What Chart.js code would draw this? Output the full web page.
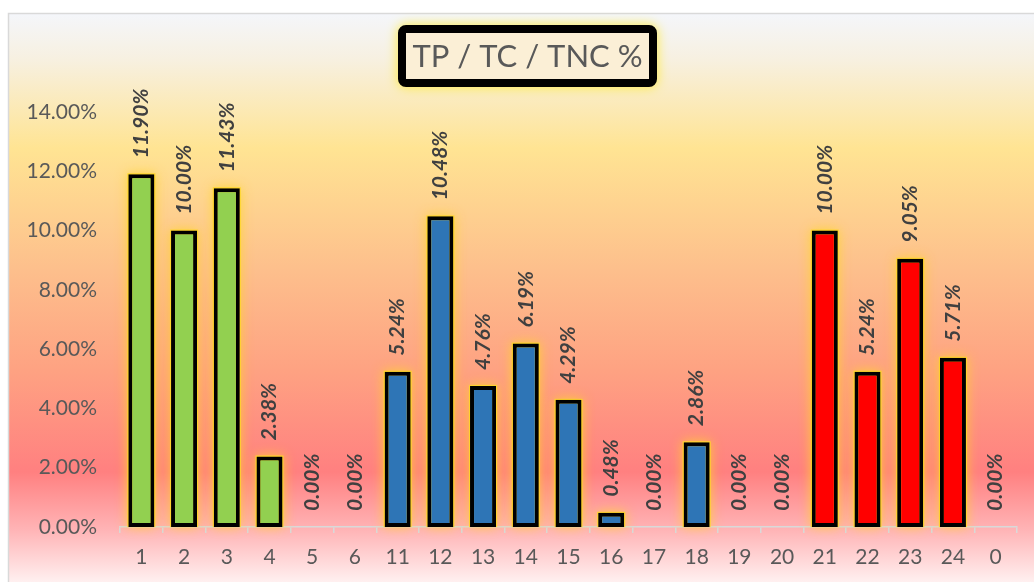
<!DOCTYPE html>
<html>
<head>
<meta charset="utf-8">
<script src="https://cdn.jsdelivr.net/npm/chart.js@4"></script>
<style>
  html, body { margin: 0; padding: 0; background: #ffffff; }
  #wrap { width: 1034px; height: 582px; position: relative; }
</style>
</head>
<body>
<div id="wrap"><canvas id="c" width="1034" height="582"></canvas></div>
<script>
const categories = ['1','2','3','4','5','6','11','12','13','14','15','16','17','18','19','20','21','22','23','24','0'];
const values = [11.90, 10.00, 11.43, 2.38, 0.00, 0.00, 5.24, 10.48, 4.76, 6.19, 4.29, 0.48, 0.00, 2.86, 0.00, 0.00, 10.00, 5.24, 9.05, 5.71, 0.00];
const barColors = ['#92d050','#92d050','#92d050','#92d050','#92d050','#92d050',
  '#2e75b6','#2e75b6','#2e75b6','#2e75b6','#2e75b6','#2e75b6','#2e75b6','#2e75b6','#2e75b6','#2e75b6',
  '#ff0000','#ff0000','#ff0000','#ff0000','#ff0000'];
const titleText = 'TP / TC / TNC %';

const bgPlugin = {
  id: 'bg',
  beforeDraw(chart) {
    const ctx = chart.ctx;
    ctx.save();
    ctx.fillStyle = '#ffffff';
    ctx.fillRect(0, 0, chart.width, chart.height);
    const top = 13, bot = 582;
    const g = ctx.createLinearGradient(0, top, 0, bot);
    const h = bot - top;
    const stop = (y, c) => g.addColorStop(Math.min(1, Math.max(0, (y - top) / h)), c);
    stop(13, '#f4f6fb');
    stop(60, '#f7f0e0');
    stop(148, '#ffe493');
    stop(270, '#fdbf8c');
    stop(370, '#fea282');
    stop(472, '#ff8080');
    stop(530, '#ffb4b6');
    stop(582, '#fff0f0');
    ctx.fillStyle = g;
    ctx.fillRect(8, 13, chart.width, chart.height);
    ctx.strokeStyle = '#d9d9d9';
    ctx.lineWidth = 1.5;
    ctx.strokeRect(8.5, 13.5, chart.width + 20, chart.height + 20);
    ctx.restore();
  },
  beforeDatasetsDraw(chart) {
    // soft yellow glow behind each non-zero bar
    const ctx = chart.ctx;
    const meta = chart.getDatasetMeta(0);
    ctx.save();
    ctx.shadowColor = 'rgba(255, 214, 40, 0.9)';
    ctx.shadowBlur = 12;
    ctx.fillStyle = 'rgba(255, 214, 40, 0.9)';
    meta.data.forEach((el, i) => {
      if (chart.data.datasets[0].data[i] === 0) return;
      const p = el.getProps(['x', 'y', 'base', 'width'], true);
      ctx.fillRect(p.x - p.width / 2 - 1, p.y - 1, p.width + 2, p.base - p.y + 1);
    });
    ctx.restore();
  },
  afterDatasetsDraw(chart) {
    const ctx = chart.ctx;
    const meta = chart.getDatasetMeta(0);
    ctx.save();
    ctx.fillStyle = '#404040';
    ctx.font = 'italic bold 21px Lato';
    ctx.textAlign = 'left';
    ctx.textBaseline = 'middle';
    meta.data.forEach((el, i) => {
      const v = chart.data.datasets[0].data[i];
      ctx.save();
      ctx.translate(el.x, el.y - 16);
      ctx.rotate(-Math.PI / 2);
      ctx.fillText(v.toFixed(2) + '%', 0, 0);
      ctx.restore();
    });
    ctx.restore();
  },
  afterDraw(chart) {
    const ctx = chart.ctx;
    ctx.save();
    const x = 402, y = 29, w = 251, h = 54, r = 4;
    ctx.shadowColor = 'rgba(255, 235, 40, 1)';
    ctx.shadowBlur = 12;
    ctx.beginPath();
    ctx.roundRect(x, y, w, h, r);
    ctx.lineWidth = 8;
    ctx.strokeStyle = '#000000';
    ctx.stroke();
    ctx.shadowBlur = 0;
    ctx.fillStyle = '#fbefd6';
    ctx.fillRect(x + 4, y + 4, w - 8, h - 8);
    ctx.fillStyle = '#595959';
    ctx.font = '31px Lato';
    ctx.textAlign = 'center';
    ctx.textBaseline = 'middle';
    ctx.fillText(titleText, x + w / 2, y + h / 2 + 1);
    ctx.restore();
  }
};

new Chart(document.getElementById('c'), {
  type: 'bar',
  data: {
    labels: categories,
    datasets: [{
      data: values,
      backgroundColor: barColors,
      borderColor: '#000000',
      borderWidth: (c) => (c.raw === 0 ? 0 : 4),
      borderSkipped: false,
      barPercentage: 0.61,
      categoryPercentage: 1.0
    }]
  },
  options: {
    responsive: false,
    animation: false,
    devicePixelRatio: 1,
    layout: { padding: { left: 0, right: 17, top: 112, bottom: 0 } },
    plugins: { legend: { display: false }, tooltip: { enabled: false }, title: { display: false } },
    scales: {
      x: {
        afterFit: (s) => { s.height = 55; },
        grid: { display: true, drawOnChartArea: false, drawTicks: true, tickLength: 6, color: '#d9d9d9', offset: true, lineWidth: 1.5 },
        border: { display: true, color: '#d9d9d9', width: 1.5 },
        ticks: { color: '#595959', font: { family: 'Lato', size: 21 }, padding: 12, maxRotation: 0, autoSkip: false }
      },
      y: {
        min: 0, max: 14,
        afterFit: (s) => { s.width = 120; },
        grid: { display: false, drawTicks: false },
        border: { display: false },
        ticks: { stepSize: 2, color: '#595959', font: { family: 'Lato', size: 21 }, padding: 23,
          callback: (v) => v.toFixed(2) + '%' }
      }
    }
  },
  plugins: [bgPlugin]
});
</script>
</body>
</html>
